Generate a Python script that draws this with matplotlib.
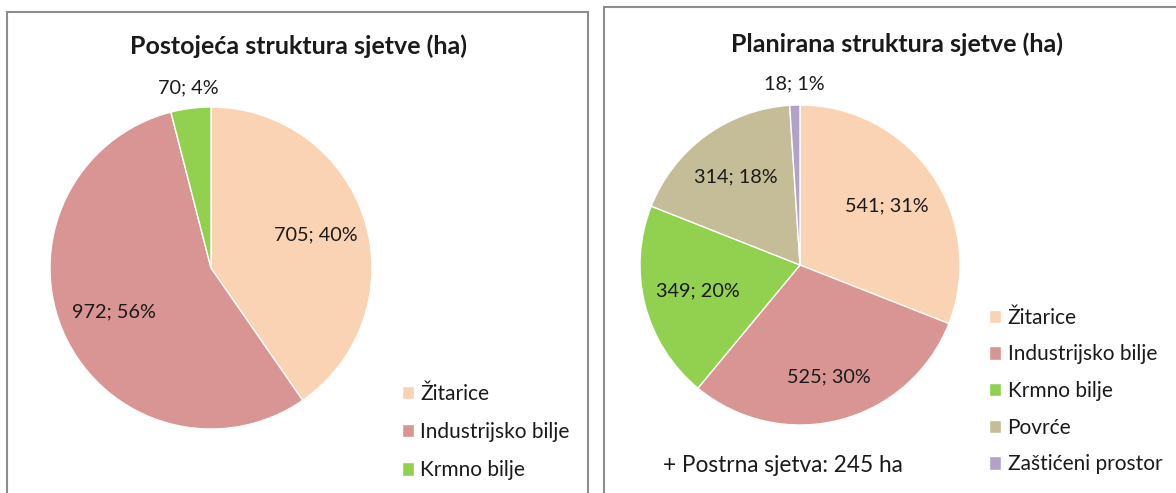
import numpy as np
import matplotlib.pyplot as plt
from matplotlib.patches import Rectangle

plt.rcParams['font.family'] = ['Lato', 'DejaVu Sans']

# data
left_title = 'Postojeća struktura sjetve (ha)'
left_cats = ['Žitarice', 'Industrijsko bilje', 'Krmno bilje']
left_vals = [705, 972, 70]
left_pcts = [40, 56, 4]

right_title = 'Planirana struktura sjetve (ha)'
right_cats = ['Žitarice', 'Industrijsko bilje', 'Krmno bilje', 'Povrće', 'Zaštićeni prostor']
right_vals = [541, 525, 349, 314, 18]
right_pcts = [31, 30, 20, 18, 1]
note = '+ Postrna sjetva: 245 ha'

colors = ['#FAD3B4', '#D99594', '#92D050', '#C4BD97', '#B3A2C7']
txt = '#1a1a1a'

W, H = 1176, 493
fig = plt.figure(figsize=(W / 100, H / 100), dpi=100)


def px_axes(cx, cy, r):
    return fig.add_axes([(cx - r) / W, (H - cy - r) / H, 2 * r / W, 2 * r / H])


def draw_pie(ax, vals, pcts, dists):
    wedges, _ = ax.pie(vals, colors=colors[:len(vals)], startangle=90,
                       counterclock=False, radius=1,
                       wedgeprops=dict(linewidth=1.0, edgecolor='white'))
    for w, v, p, d in zip(wedges, vals, pcts, dists):
        mid = np.deg2rad((w.theta1 + w.theta2) / 2)
        ax.text(d * np.cos(mid), d * np.sin(mid), f'{v}; {p}%',
                ha='center', va='center', fontsize=14.3, color=txt)
    ax.set_xlim(-1, 1)
    ax.set_ylim(-1, 1)
    return wedges


# panel borders
fig.patches.append(Rectangle((7 / W, -0.05), 581 / W, (H - 12) / H + 0.05,
                             transform=fig.transFigure, fill=False,
                             edgecolor='#8c8c8c', linewidth=1.5))
fig.patches.append(Rectangle((604 / W, -0.05), 600 / W, (H - 7) / H + 0.05,
                             transform=fig.transFigure, fill=False,
                             edgecolor='#8c8c8c', linewidth=1.5))

# left chart
ax1 = px_axes(211, 268, 161)
w1 = draw_pie(ax1, left_vals, left_pcts, [0.68, 0.66, 1.13])
fig.text(299 / W, 1 - 46 / H, left_title, ha='center', va='center',
         fontsize=18, fontweight='bold', color=txt)
fig.legend(w1, left_cats, loc='upper left',
           bbox_to_anchor=(383 / W, 1 - 365 / H), frameon=False,
           handlelength=0.6, handleheight=0.6, handletextpad=0.3,
           labelspacing=0.88, fontsize=15, labelcolor=txt)

# right chart
ax2 = px_axes(800, 265, 160)
w2 = draw_pie(ax2, right_vals, right_pcts, [0.66, 0.72, 0.66, 0.68, 1.13])
fig.text(897 / W, 1 - 44 / H, right_title, ha='center', va='center',
         fontsize=18, fontweight='bold', color=txt)
fig.legend(w2, right_cats, loc='upper left',
           bbox_to_anchor=(970 / W, 1 - 289 / H), frameon=False,
           handlelength=0.6, handleheight=0.6, handletextpad=0.3,
           labelspacing=0.80, fontsize=15, labelcolor=txt)
fig.text(663 / W, 1 - 465 / H, note, ha='left', va='center',
         fontsize=16.3, color=txt)

plt.savefig('out.png', dpi=100)
